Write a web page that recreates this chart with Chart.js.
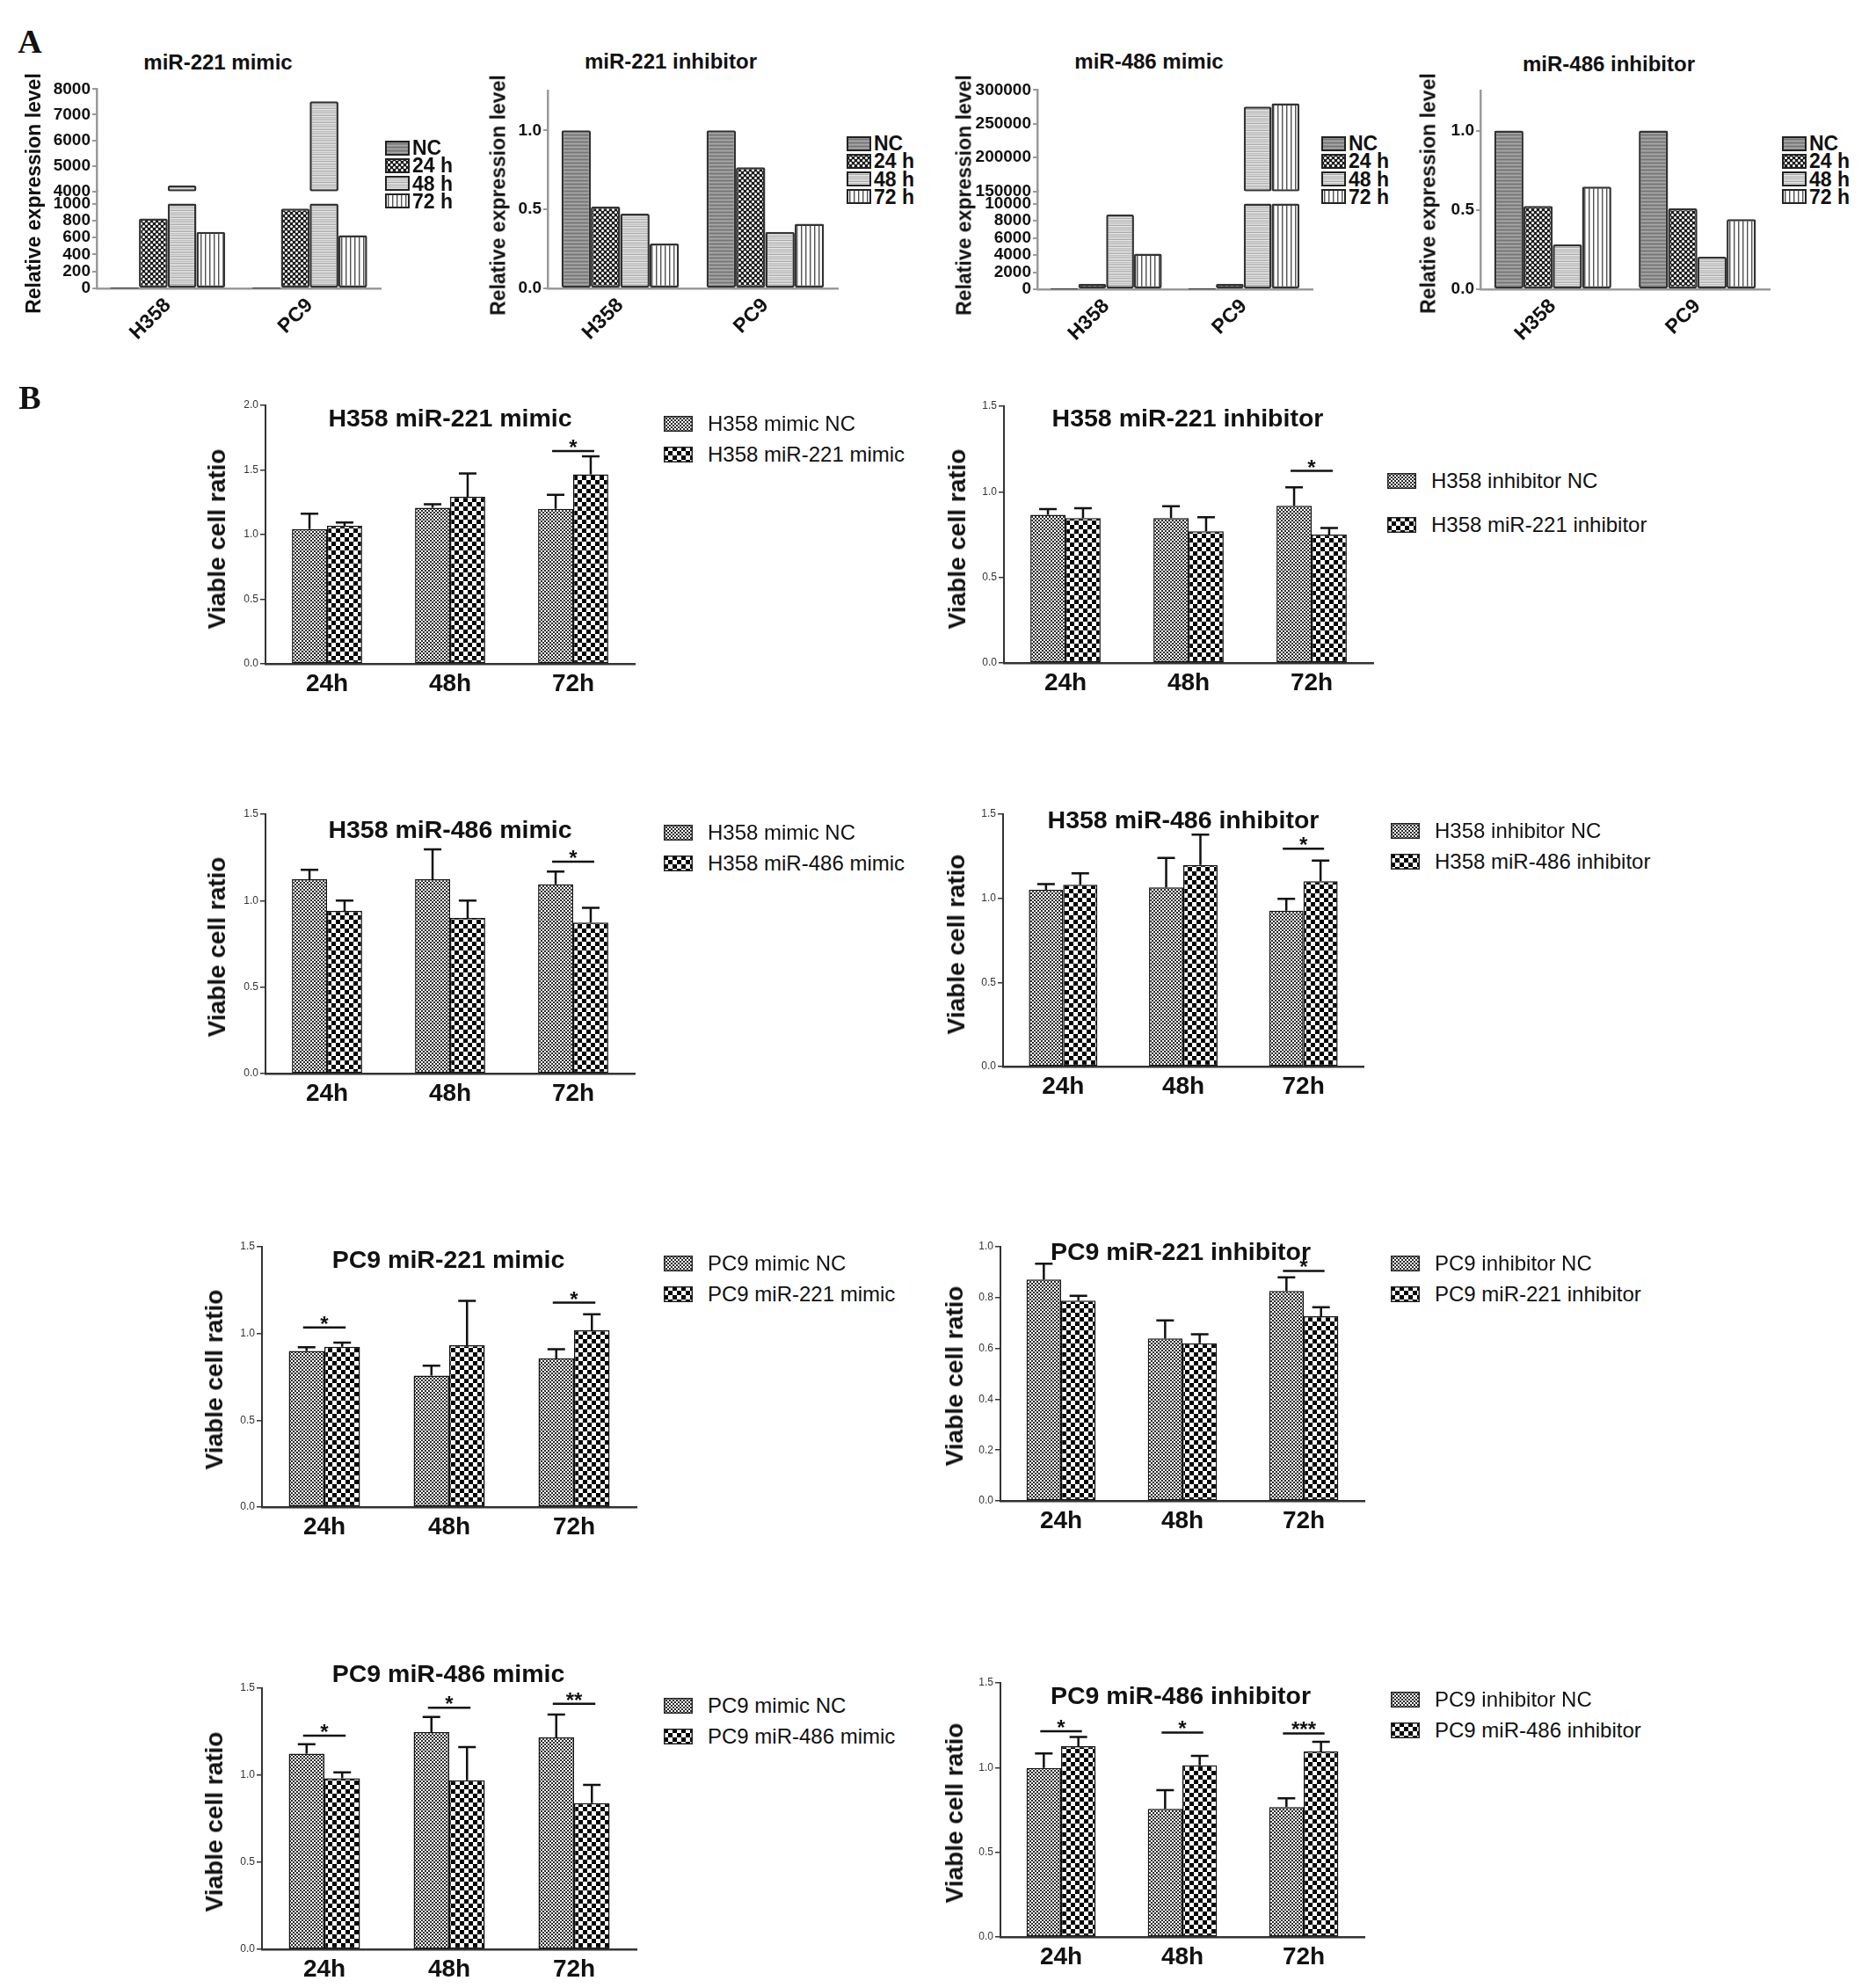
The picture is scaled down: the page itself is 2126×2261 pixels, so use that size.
<!DOCTYPE html>
<html>
<head>
<meta charset="utf-8">
<title>miR-221 / miR-486 expression and cell viability</title>
<script src="https://cdn.jsdelivr.net/npm/chart.js@4.4.1/dist/chart.umd.min.js"></script>
<style>
  html, body { margin: 0; padding: 0; background: #fff; overflow: hidden; }
  #fig { position: relative; width: 2126px; height: 2261px; background: #fff;
         font-family: "Liberation Sans", Arial, sans-serif; color: #111; }
  #fig canvas { position: absolute; }
  .lbl { position: absolute; white-space: nowrap; line-height: 1; }
</style>
</head>
<body>
<div id="fig"></div>
<script>
// ---------- panel A : relative expression level ----------
const cellLines = ['H358', 'PC9'];
const exprSeries = ['NC', '24 h', '48 h', '72 h'];
// one row per series (exprSeries order), columns = [H358, PC9]
const mir221Mimic = [[1, 1], [824, 941], [4227, 7523], [665, 628]];
const mir221Inhibitor = [[1, 1], [0.517, 0.767], [0.473, 0.358], [0.284, 0.409]];
const mir486Mimic = [[1, 1], [650, 650], [8740, 275600], [4150, 280400]];
const mir486Inhibitor = [[1, 1], [0.525, 0.51], [0.282, 0.205], [0.647, 0.442]];

// broken y axes (lower part / upper part)
const mir221MimicLowTicks = [0, 200, 400, 600, 800, 1000];
const mir221MimicHighTicks = [4000, 5000, 6000, 7000, 8000];
const mir486MimicLowTicks = [0, 2000, 4000, 6000, 8000, 10000];
const mir486MimicHighTicks = [150000, 200000, 250000, 300000];
const inhibitorTicks = [0, 0.5, 1];

// ---------- panel B : viable cell ratio (mean, SD) ----------
const timePoints = ['24h', '48h', '72h'];
const ratioTicks = [0, 0.5, 1, 1.5];
const ratioTicksWide = [0, 0.5, 1, 1.5, 2];
const ratioTicksFine = [0, 0.2, 0.4, 0.6, 0.8, 1];

// rows = [control, treated]; sig = [time index, line height, mark]
const h358M221Names = ['H358 mimic NC', 'H358 miR-221 mimic'];
const h358M221 = [[1.043, 1.208, 1.199], [1.068, 1.292, 1.466]];
const h358M221Sd = [[0.118, 0.027, 0.109], [0.025, 0.181, 0.14]];
const h358M221Sig = [[2, 1.647, '*']];

const h358I221Names = ['H358 inhibitor NC', 'H358 miR-221 inhibitor'];
const h358I221 = [[0.865, 0.846, 0.918], [0.846, 0.769, 0.75]];
const h358I221Sd = [[0.034, 0.07, 0.108], [0.058, 0.082, 0.038]];
const h358I221Sig = [[2, 1.122, '*']];

const h358M486Names = ['H358 mimic NC', 'H358 miR-486 mimic'];
const h358M486 = [[1.124, 1.124, 1.095], [0.941, 0.9, 0.873]];
const h358M486Sd = [[0.054, 0.173, 0.073], [0.059, 0.1, 0.086]];
const h358M486Sig = [[2, 1.226, '*']];

const h358I486Names = ['H358 inhibitor NC', 'H358 miR-486 inhibitor'];
const h358I486 = [[1.051, 1.065, 0.927], [1.08, 1.198, 1.101]];
const h358I486Sd = [[0.033, 0.175, 0.07], [0.069, 0.181, 0.123]];
const h358I486Sig = [[2, 1.295, '*']];

const pc9M221Names = ['PC9 mimic NC', 'PC9 miR-221 mimic'];
const pc9M221 = [[0.899, 0.758, 0.856], [0.923, 0.933, 1.018]];
const pc9M221Sd = [[0.022, 0.056, 0.053], [0.025, 0.255, 0.093]];
const pc9M221Sig = [[0, 1.035, '*'], [2, 1.178, '*']];

const pc9I221Names = ['PC9 inhibitor NC', 'PC9 miR-221 inhibitor'];
const pc9I221 = [[0.871, 0.639, 0.826], [0.788, 0.62, 0.727]];
const pc9I221Sd = [[0.062, 0.071, 0.054], [0.019, 0.036, 0.035]];
const pc9I221Sig = [[2, 0.905, '*']];

const pc9M486Names = ['PC9 mimic NC', 'PC9 miR-486 mimic'];
const pc9M486 = [[1.124, 1.247, 1.217], [0.982, 0.971, 0.84]];
const pc9M486Sd = [[0.054, 0.087, 0.131], [0.035, 0.19, 0.105]];
const pc9M486Sig = [[0, 1.227, '*'], [1, 1.387, '*'], [2, 1.41, '**']];

const pc9I486Names = ['PC9 inhibitor NC', 'PC9 miR-486 inhibitor'];
const pc9I486 = [[0.998, 0.756, 0.767], [1.126, 1.014, 1.095]];
const pc9I486Sd = [[0.085, 0.111, 0.052], [0.055, 0.055, 0.057]];
const pc9I486Sig = [[0, 1.214, '*'], [1, 1.207, '*'], [2, 1.202, '***']];


const fig = document.getElementById('fig');
Chart.defaults.font.family = '"Liberation Sans", Arial, sans-serif';
Chart.defaults.color = '#111';

function addCanvas(left, top, w, h) {
  const c = document.createElement('canvas');
  c.width = w; c.height = h;
  c.style.left = left + 'px'; c.style.top = top + 'px';
  c.style.width = w + 'px'; c.style.height = h + 'px';
  fig.appendChild(c);
  return c;
}

function label(str, x, y, style, how) {
  const d = document.createElement('div');
  d.className = 'lbl';
  d.textContent = str;
  Object.assign(d.style, style);
  d.style.left = x + 'px';
  d.style.top = y + 'px';
  if (how === 'left') d.style.transform = 'translateY(-50%)';
  else if (how === 'vertical') d.style.transform = 'translate(-50%, -50%) rotate(-90deg)';
  else d.style.transform = 'translate(-50%, -50%)';
  fig.appendChild(d);
}

// fill patterns
function tile(w, h, draw) {
  const c = document.createElement('canvas');
  c.width = w; c.height = h;
  const g = c.getContext('2d');
  draw(g);
  return g.createPattern(c, 'repeat');
}
function checker(size, dark) {
  return tile(size * 2, size * 2, g => {
    g.fillStyle = '#fff'; g.fillRect(0, 0, size * 2, size * 2);
    g.fillStyle = dark;
    g.fillRect(0, 0, size, size); g.fillRect(size, size, size, size);
  });
}
const fillNC = tile(4, 4, g => {
  g.fillStyle = '#8e8e8e'; g.fillRect(0, 0, 4, 4);
  g.fillStyle = '#a8a8a8'; g.fillRect(0, 1, 4, 1);
  g.fillStyle = '#767676'; g.fillRect(0, 3, 4, 1);
});
const fill24 = tile(6, 6, g => {
  g.fillStyle = '#1b1b1b'; g.fillRect(0, 0, 6, 6);
  g.fillStyle = '#fff';
  [[1.5, 1.5], [4.5, 4.5]].forEach(p => { g.beginPath(); g.arc(p[0], p[1], 1.5, 0, 7); g.fill(); });
});
const fill48 = tile(2, 4, g => {
  ['#e8e8e8', '#bdbdbd', '#dedede', '#a8a8a8'].forEach((c, i) => { g.fillStyle = c; g.fillRect(0, i, 2, 1); });
});
const fill72 = tile(5, 2, g => {
  g.fillStyle = '#fff'; g.fillRect(0, 0, 5, 2);
  g.fillStyle = '#555'; g.fillRect(3, 0, 1, 2);
  g.fillStyle = '#b5b5b5'; g.fillRect(4, 0, 1, 2);
});
const exprFills = [fillNC, fill24, fill48, fill72];
const fillCtrl = checker(2, '#2a2a2a');
const fillTreat = checker(5, '#000');

function baseOptions(scales, padT, padR) {
  return {
    responsive: false, animation: false, devicePixelRatio: 1,
    layout: { padding: { top: padT, right: padR, left: 0, bottom: 0 } },
    plugins: { legend: { display: false }, title: { display: false }, tooltip: { enabled: false } },
    scales: scales
  };
}

// ----- panel A axes -----
const fmtInt = v => String(v);
const fmtOne = v => v.toFixed(1);

function yAxisA(min, max, ticks, fmt, extra) {
  return Object.assign({
    type: 'linear', position: 'left', min: min, max: max, stacked: false,
    border: { display: true, color: '#9a9a9a', width: 2.5 },
    grid: { display: true, drawOnChartArea: false, drawTicks: true, tickLength: 5, color: '#9a9a9a', lineWidth: 2 },
    ticks: { font: { size: 19, weight: 'bold' }, color: '#111', padding: 2, autoSkip: false, callback: fmt },
    afterBuildTicks: s => { s.ticks = ticks.map(v => ({ value: v })); },
    afterFit: s => { s.width = 80; }
  }, extra || {});
}
function xAxisA() {
  return {
    type: 'category', offset: true,
    border: { display: true, color: '#9a9a9a', width: 2.5 },
    grid: { display: false, drawTicks: false },
    ticks: { font: { size: 23, weight: 'bold' }, color: '#111', minRotation: 45, maxRotation: 45, padding: 6 },
    afterFit: s => { s.height = 75; }
  };
}
function barStyleA(i) {
  return {
    label: exprSeries[i], backgroundColor: exprFills[i], borderColor: '#333', borderWidth: 2.5,
    borderRadius: 2, borderSkipped: false, categoryPercentage: 0.81, barPercentage: 1
  };
}

function exprChart(axisX, top, bottom, xEnd, rows) {
  const cv = addCanvas(axisX - 80, top - 12, xEnd - axisX + 80 + 8, bottom - top + 12 + 75);
  const datasets = rows.map((vals, i) => Object.assign({ data: vals }, barStyleA(i)));
  new Chart(cv, {
    type: 'bar',
    data: { labels: cellLines, datasets: datasets },
    options: baseOptions({ x: xAxisA(), y: yAxisA(0, 1.25, inhibitorTicks, fmtOne) }, 12, 8)
  });
}

// broken axis: values up to lowBreak on the lower scale, above highMin on the upper one
function brokenExprChart(axisX, top, bottom, xEnd, rows, lowBreak, lowMax, highMin, highMax, lowTicks, highTicks, lowW, highW) {
  const cv = addCanvas(axisX - 80, top - 12, xEnd - axisX + 80 + 8, bottom - top + 12 + 75);
  const datasets = [];
  rows.forEach((vals, i) => {
    datasets.push(Object.assign({ yAxisID: 'y', stack: exprSeries[i],
      data: vals.map(v => [0, Math.min(v, lowBreak)]) }, barStyleA(i)));
    datasets.push(Object.assign({ yAxisID: 'y2', stack: exprSeries[i],
      data: vals.map(v => v > highMin ? [highMin, v] : null) }, barStyleA(i)));
  });
  new Chart(cv, {
    type: 'bar',
    data: { labels: cellLines, datasets: datasets },
    options: baseOptions({
      x: xAxisA(),
      y: yAxisA(0, lowMax, lowTicks, fmtInt, { stack: 'brk', stackWeight: lowW }),
      y2: yAxisA(highMin, highMax, highTicks, fmtInt, { stack: 'brk', stackWeight: highW })
    }, 12, 8)
  });
}

// ----- panel B -----
const errorBars = {
  id: 'errorBars',
  afterDatasetsDraw(chart) {
    const ctx = chart.ctx, y = chart.scales.y;
    ctx.save();
    ctx.strokeStyle = '#111';
    ctx.lineWidth = 2.5;
    chart.data.datasets.forEach((ds, di) => {
      chart.getDatasetMeta(di).data.forEach((bar, i) => {
        const top = y.getPixelForValue(ds.data[i] + ds.errors[i]);
        ctx.beginPath();
        ctx.moveTo(bar.x, bar.y); ctx.lineTo(bar.x, top);
        ctx.moveTo(bar.x - 10, top); ctx.lineTo(bar.x + 10, top);
        ctx.stroke();
      });
    });
    ctx.restore();
  }
};

function sigMarks(items) {
  return {
    id: 'sigMarks',
    afterDatasetsDraw(chart) {
      const ctx = chart.ctx, y = chart.scales.y;
      const a = chart.getDatasetMeta(0).data, b = chart.getDatasetMeta(1).data;
      ctx.save();
      ctx.strokeStyle = '#111'; ctx.fillStyle = '#111';
      ctx.lineWidth = 2.5;
      ctx.font = 'bold 24px "Liberation Sans", Arial, sans-serif';
      ctx.textAlign = 'center'; ctx.textBaseline = 'alphabetic';
      items.forEach(it => {
        const py = y.getPixelForValue(it[1]);
        const x0 = a[it[0]].x - 4, x1 = b[it[0]].x + 4;
        ctx.beginPath(); ctx.moveTo(x0, py); ctx.lineTo(x1, py); ctx.stroke();
        ctx.fillText(it[2], (x0 + x1) / 2, py + 4);
      });
      ctx.restore();
    }
  };
}

function viabilityChart(axisX, top, bottom, xEnd, yMax, ticks, names, means, sds, sig) {
  const cv = addCanvas(axisX - 45, top - 15, xEnd - axisX + 45 + 6, bottom - top + 15 + 50);
  const fills = [fillCtrl, fillTreat];
  const datasets = means.map((m, i) => ({
    label: names[i], data: m, errors: sds[i], backgroundColor: fills[i],
    borderColor: '#111', borderWidth: 1.5, borderSkipped: false,
    categoryPercentage: 0.57, barPercentage: 1
  }));
  new Chart(cv, {
    type: 'bar',
    data: { labels: timePoints, datasets: datasets },
    options: baseOptions({
      x: {
        type: 'category', offset: true,
        border: { display: true, color: '#333', width: 2.5 },
        grid: { display: false, drawTicks: false },
        ticks: { font: { size: 28, weight: 'bold' }, color: '#111', padding: 6 },
        afterFit: s => { s.height = 50; }
      },
      y: {
        type: 'linear', min: 0, max: yMax,
        border: { display: true, color: '#333', width: 2 },
        grid: { display: true, drawOnChartArea: false, drawTicks: true, tickLength: 6, color: '#333', lineWidth: 1.5 },
        ticks: { font: { size: 12 }, color: '#333', padding: 2, autoSkip: false, callback: fmtOne },
        afterBuildTicks: s => { s.ticks = ticks.map(v => ({ value: v })); },
        afterFit: s => { s.width = 45; }
      }
    }, 15, 6),
    plugins: [errorBars, sigMarks(sig)]
  });
}

function legend(x, y0, step, names, fills, sw, border, gap, style) {
  names.forEach((n, i) => {
    const cy = y0 + i * step;
    const c = addCanvas(x, Math.round(cy - sw[1] / 2), sw[0], sw[1]);
    const g = c.getContext('2d');
    g.fillStyle = fills[i]; g.fillRect(0, 0, sw[0], sw[1]);
    g.strokeStyle = '#222'; g.lineWidth = border;
    g.strokeRect(border / 2, border / 2, sw[0] - border, sw[1] - border);
    label(n, x + sw[0] + gap, cy, style, 'left');
  });
}

// ----- draw panel A -----
const panelLetter = { fontFamily: '"Liberation Serif", "Times New Roman", serif', fontWeight: 'bold', fontSize: '38px' };
const titleA = { fontWeight: 'bold', fontSize: '24px' };
const yTitleA = { fontWeight: 'bold', fontSize: '23px' };
const legA = { fontWeight: 'bold', fontSize: '23px' };

label('A', 34, 47, panelLetter);

brokenExprChart(110, 100, 328, 433, mir221Mimic, 1000, 1144, 4000, 8000,
  mir221MimicLowTicks, mir221MimicHighTicks, 111, 117);
label('miR-221 mimic', 248, 71, titleA);
label('Relative expression level', 38, 220, yTitleA, 'vertical');
legend(438, 168, 20.3, exprSeries, exprFills, [28, 17], 2, 3, legA);

exprChart(623, 102, 328, 953, mir221Inhibitor);
label('miR-221 inhibitor', 763, 70, titleA);
label('Relative expression level', 567, 222, yTitleA, 'vertical');
legend(963, 163, 20.3, exprSeries, exprFills, [28, 17], 2, 3, legA);

brokenExprChart(1180, 101, 329, 1493, mir486Mimic, 10000, 11429, 150000, 300000,
  mir486MimicLowTicks, mir486MimicHighTicks, 112, 116);
label('miR-486 mimic', 1307, 70, titleA);
label('Relative expression level', 1097, 222, yTitleA, 'vertical');
legend(1503, 163, 20.3, exprSeries, exprFills, [28, 17], 2, 3, legA);

exprChart(1684, 102, 329, 2013, mir486Inhibitor);
label('miR-486 inhibitor', 1830, 73, titleA);
label('Relative expression level', 1625, 220, yTitleA, 'vertical');
legend(2027, 163, 20.3, exprSeries, exprFills, [28, 17], 2, 3, legA);

// ----- draw panel B -----
const titleB = { fontWeight: 'bold', fontSize: '28.5px' };
const yTitleB = { fontWeight: 'bold', fontSize: '28px' };
const legB = { fontSize: '24px' };
const fillsB = [fillCtrl, fillTreat];

label('B', 34, 452, panelLetter);

viabilityChart(302, 461, 755, 722, 2, ratioTicksWide, h358M221Names, h358M221, h358M221Sd, h358M221Sig);
label('H358 miR-221 mimic', 512, 475, titleB);
label('Viable cell ratio', 247, 613, yTitleB, 'vertical');
legend(755, 482, 35, h358M221Names, fillsB, [33, 18], 1.5, 17, legB);

viabilityChart(1142, 462, 754, 1562, 1.5, ratioTicks, h358I221Names, h358I221, h358I221Sd, h358I221Sig);
label('H358 miR-221 inhibitor', 1351, 475, titleB);
label('Viable cell ratio', 1089, 613, yTitleB, 'vertical');
legend(1578, 547, 50, h358I221Names, fillsB, [33, 18], 1.5, 17, legB);

viabilityChart(302, 926, 1221, 722, 1.5, ratioTicks, h358M486Names, h358M486, h358M486Sd, h358M486Sig);
label('H358 miR-486 mimic', 512, 943, titleB);
label('Viable cell ratio', 247, 1077, yTitleB, 'vertical');
legend(755, 947, 35, h358M486Names, fillsB, [33, 18], 1.5, 17, legB);

viabilityChart(1141, 926, 1213, 1551, 1.5, ratioTicks, h358I486Names, h358I486, h358I486Sd, h358I486Sig);
label('H358 miR-486 inhibitor', 1346, 932, titleB);
label('Viable cell ratio', 1088, 1074, yTitleB, 'vertical');
legend(1582, 945, 35, h358I486Names, fillsB, [33, 18], 1.5, 17, legB);

viabilityChart(298, 1418, 1714, 724, 1.5, ratioTicks, pc9M221Names, pc9M221, pc9M221Sd, pc9M221Sig);
label('PC9 miR-221 mimic', 510, 1432, titleB);
label('Viable cell ratio', 244, 1569, yTitleB, 'vertical');
legend(755, 1437, 35, pc9M221Names, fillsB, [33, 18], 1.5, 17, legB);

viabilityChart(1138, 1418, 1707, 1552, 1, ratioTicksFine, pc9I221Names, pc9I221, pc9I221Sd, pc9I221Sig);
label('PC9 miR-221 inhibitor', 1343, 1423, titleB);
label('Viable cell ratio', 1086, 1565, yTitleB, 'vertical');
legend(1582, 1437, 35, pc9I221Names, fillsB, [33, 18], 1.5, 17, legB);

viabilityChart(298, 1920, 2217, 724, 1.5, ratioTicks, pc9M486Names, pc9M486, pc9M486Sd, pc9M486Sig);
label('PC9 miR-486 mimic', 510, 1903, titleB);
label('Viable cell ratio', 244, 2072, yTitleB, 'vertical');
legend(755, 1940, 35, pc9M486Names, fillsB, [33, 18], 1.5, 17, legB);

viabilityChart(1138, 1914, 2203, 1552, 1.5, ratioTicks, pc9I486Names, pc9I486, pc9I486Sd, pc9I486Sig);
label('PC9 miR-486 inhibitor', 1343, 1928, titleB);
label('Viable cell ratio', 1086, 2062, yTitleB, 'vertical');
legend(1582, 1933, 35, pc9I486Names, fillsB, [33, 18], 1.5, 17, legB);
</script>
</body>
</html>
